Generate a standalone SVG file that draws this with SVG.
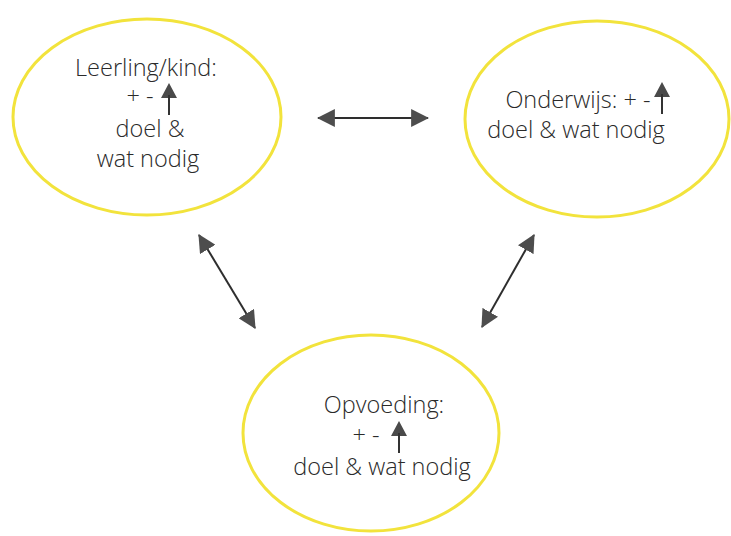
<svg xmlns="http://www.w3.org/2000/svg" width="731" height="536" viewBox="0 0 731 536">
<style>
.ell{fill:none;stroke:#f2e33c;stroke-width:3}
.t{font-family:"Open Sans","Liberation Sans",sans-serif;font-weight:300;font-size:23.5px;fill:#2a2a2a;text-anchor:middle}
.conn{stroke:#2e2e2e;stroke-width:2;fill:none}
</style>
<defs>
<marker id="ah" markerUnits="userSpaceOnUse" markerWidth="18" markerHeight="18" viewBox="0 0 16 16" refX="15" refY="8" orient="auto-start-reverse">
<path d="M0,0 L16,8 L0,16 Z" fill="#4d4d4d"/>
</marker>
<g id="upArrow">
<path d="M0,0 L8,15 L-8,15 Z" fill="#4a4a4a"/>
<line x1="0" y1="12" x2="0" y2="32" stroke="#333" stroke-width="2"/>
</g>
</defs>
<rect width="731" height="536" fill="#fff"/>
<g id="leerling">
<ellipse class="ell" cx="147" cy="117" rx="134" ry="98"/>
<text class="t" x="146" y="76">Leerling/kind:</text>
<text class="t" x="140" y="104">+ -</text>
<use href="#upArrow" x="169" y="83"/>
<text class="t" x="150" y="137">doel &amp;</text>
<text class="t" x="148" y="167">wat nodig</text>
</g>
<g id="onderwijs">
<ellipse class="ell" cx="597" cy="119" rx="132" ry="98"/>
<text class="t" x="578" y="108">Onderwijs: + -</text>
<use href="#upArrow" x="662" y="82"/>
<text class="t" x="576" y="138">doel &amp; wat nodig</text>
</g>
<g id="opvoeding">
<ellipse class="ell" cx="371" cy="433" rx="128" ry="98"/>
<text class="t" x="384" y="413">Opvoeding:</text>
<text class="t" x="366" y="443">+  -</text>
<use href="#upArrow" x="399" y="421"/>
<text class="t" x="382" y="475">doel &amp; wat nodig</text>
</g>
<g id="connectors">
<line class="conn" x1="318" y1="118" x2="428" y2="118" marker-start="url(#ah)" marker-end="url(#ah)"/>
<line class="conn" x1="199" y1="235" x2="255" y2="328" marker-start="url(#ah)" marker-end="url(#ah)"/>
<line class="conn" x1="534" y1="235" x2="482" y2="327" marker-start="url(#ah)" marker-end="url(#ah)"/>
</g>
</svg>
